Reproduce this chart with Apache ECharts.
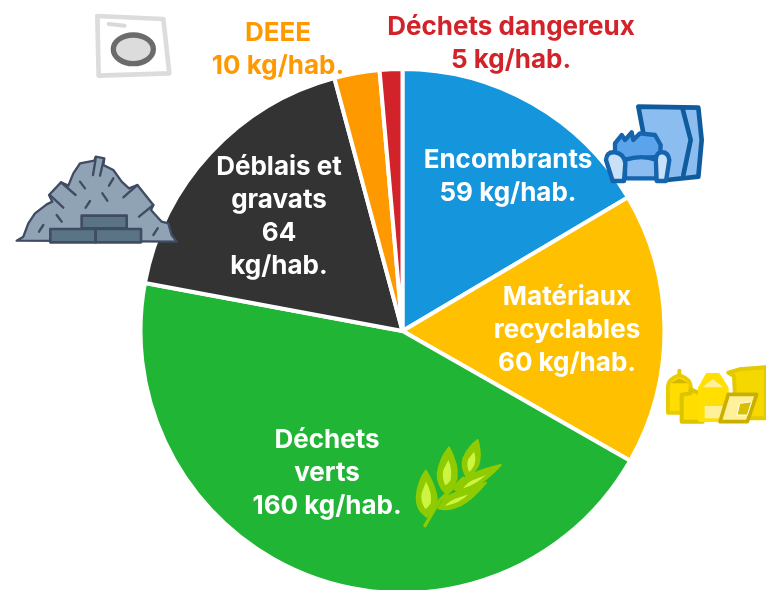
<!DOCTYPE html>
<html>
<head>
<meta charset="utf-8">
<style>html,body{margin:0;padding:0;background:#fff}#pie{width:766px;height:590px}</style>
<script src="https://cdn.jsdelivr.net/npm/echarts@6/dist/echarts.min.js"></script>
</head>
<body>
<div id="pie"></div>
<script>
var names = ['Encombrants', 'Matériaux recyclables', 'Déchets verts', 'Déblais et gravats', 'DEEE', 'Déchets dangereux'];
var values = [59, 60, 160, 64, 10, 5];
var labels = [
    'Encombrants\n59 kg/hab.',
    'Matériaux\nrecyclables\n60 kg/hab.',
    'Déchets\nverts\n160 kg/hab.',
    'Déblais et\ngravats\n64\nkg/hab.',
    'DEEE\n10 kg/hab.',
    'Déchets dangereux\n5 kg/hab.'
];
var colors = ['#1596dc', '#ffc000', '#21b535', '#333333', '#ff9900', '#d2232a'];
var labelColors = ['#fff', '#fff', '#fff', '#fff', '#ff9900', '#d2232a'];
var labelPos = [[508, 177], [567, 330], [327, 473], [279, 217], [278, 50], [511, 44]];

var myChart = echarts.init(document.getElementById('pie'));

// icons are drawn in zoomed coordinates, hence scale 1/3
function icon(x, y, children) {
    return { type: 'group', x: x, y: y, scaleX: 1 / 3, scaleY: 1 / 3, silent: true, children: children };
}
// the graphic component has no plain path type, so every svg path gets its own shape class
var shapeCount = 0;
function shape(d, fill, stroke, width) {
    var name = 'iconPath' + (shapeCount++);
    echarts.graphic.registerShape(name, echarts.graphic.extendPath(d));
    return { type: name, z: 10, style: { fill: fill || 'none', stroke: stroke || 'none', lineWidth: width || 0, lineJoin: 'round', lineCap: 'round' } };
}

var washer = icon(80, 5, [
    shape('M52 33 L250 42 L268 205 L56 212 Z', '#fff', '#dcdcdc', 14),
    shape('M86 57 L134 62', 'none', '#d9d9d9', 12),
    { type: 'ellipse', z: 10, shape: { cx: 160, cy: 133, rx: 60, ry: 43 }, style: { fill: '#dcdcdc', stroke: '#6b6b6b', lineWidth: 16 } }
]);

var rubble = icon(5, 145, [
    shape('M35 287 L55 275 L70 235 L90 205 L125 178 L142 170 L132 150 L168 112 L190 122 L205 85 L225 55 L268 47 L272 35 L298 40 L295 60 L325 75 L350 110 L372 130 L397 120 L445 180 L438 195 L470 230 L490 235 L500 270 L515 290 Z', '#8fa3b5', '#3f4c63', 7),
    shape('M135 150 L175 188 M168 112 L212 150 M397 120 L355 157 M445 180 L402 215 M272 42 L264 90 M296 45 L285 92 M225 110 L240 130 M325 100 L312 122 M292 145 L307 167 M255 168 L242 188 M155 210 L170 230 M115 240 L102 260 M458 250 L445 270', 'none', '#3f4c63', 7),
    shape('M230 212 H365 V250 H230 Z', '#5a7486', '#3f4c63', 8),
    shape('M136 252 H272 V292 H136 Z', '#5a7486', '#3f4c63', 8),
    shape('M272 252 H408 V292 H272 Z', '#5a7486', '#3f4c63', 8)
]);

var furniture = icon(600, 95, [
    shape('M115 35 L295 38 L305 135 L295 245 L200 255 L150 220 Z', '#8cbdf0', '#0f5b9e', 14),
    shape('M248 42 L272 135 L250 240', 'none', '#0f5b9e', 14),
    shape('M45 175 L45 145 L65 120 L75 135 L95 112 L100 135 L120 115 L165 120 L182 150 L180 185 L50 195 Z', '#5ba3ea', '#1464ae', 13),
    shape('M75 195 Q125 178 170 195 L170 250 L75 250 Z', '#8cbdf0', '#1464ae', 13),
    shape('M18 195 Q20 170 45 172 Q72 175 76 205 L72 258 L38 258 Z', '#c8e0f8', '#1464ae', 13),
    shape('M208 195 Q205 170 182 172 Q165 175 168 205 L170 258 L198 258 Z', '#c8e0f8', '#1464ae', 13)
]);

var bottles = icon(660, 360, [
    shape('M205 38 L238 28 L318 22 L318 175 L228 175 L222 48 Z', '#f5d800', '#e2c900', 12),
    shape('M58 32 L58 45 Q24 58 24 78 L24 158 L92 158 L92 78 Q92 58 58 45 Z', '#ffdd00', '#e8cc00', 12),
    shape('M32 70 L58 55 L85 70 Z', '#d4b800'),
    shape('M92 88 L92 100 L65 104 L65 185 L128 185 L128 104 Z', '#ffdd00', '#dcc400', 12),
    shape('M142 45 L175 45 L200 85 L200 180 L120 180 L120 85 Z', '#ffdf00', '#ffe000', 12),
    shape('M128 82 L158 57 L190 82 Z', '#fff099'),
    shape('M134 138 L190 138 L190 175 L134 175 Z', '#fff099'),
    shape('M205 103 L290 103 L262 185 L180 185 Z', '#fff099', '#c9b000', 11),
    shape('M240 130 L275 125 L262 165 L232 165 Z', '#d8c000', '#fff', 3)
]);

var leaf = icon(410, 435, [
    shape('M45 272 L90 195 L160 130 M90 195 L150 170 L225 130', 'none', '#8fcb00', 10),
    shape('M48 107 Q82 165 80 200 Q70 235 50 245 Q18 225 20 185 Q25 135 48 107 Z', '#8fcb00', '#8fcb00', 6),
    shape('M48 140 Q68 175 62 205 Q52 220 46 222 Q30 200 35 175 Z', '#ccf542'),
    shape('M117 37 Q145 90 140 130 Q128 165 105 172 Q82 150 83 115 Q90 70 117 37 Z', '#8fcb00', '#8fcb00', 6),
    shape('M115 75 Q128 105 122 135 Q112 150 105 150 Q95 125 100 105 Z', '#ccf542'),
    shape('M203 15 Q215 60 205 90 Q190 118 170 125 Q153 100 160 70 Q175 35 203 15 Z', '#8fcb00', '#8fcb00', 6),
    shape('M192 50 Q200 70 192 92 Q182 108 177 110 Q168 90 175 72 Z', '#ccf542'),
    shape('M272 90 Q230 135 200 150 Q165 170 135 165 Q140 140 175 122 Q225 100 272 90 Z', '#8fcb00', '#8fcb00', 6),
    shape('M228 120 Q195 150 160 160 Q170 143 190 135 Z', '#ccf542'),
    shape('M228 143 Q185 195 150 212 Q115 228 85 220 Q95 195 130 178 Q180 155 228 143 Z', '#8fcb00', '#8fcb00', 6),
    shape('M175 178 Q150 205 105 213 Q118 198 140 190 Z', '#ccf542')
]);

var option = {
    backgroundColor: '#fff',
    animation: false,
    graphic: [washer, rubble, furniture, bottles, leaf],
    series: [
    {
        type: 'pie',
        center: [402.5, 331],
        radius: [0, 262],
        startAngle: 90,
        clockwise: true,
        data: values.map(function (v, i) {
            return {
                name: names[i],
                value: v,
                itemStyle: { color: colors[i] },
                label: { color: labelColors[i], formatter: labels[i] }
            };
        }),
        itemStyle: {
            borderColor: '#fff',
            borderWidth: 4
        },
        label: {
            show: true,
            position: 'inside',
            fontFamily: 'Inter',
            fontWeight: 'bold',
            fontSize: 26,
            lineHeight: 33,
            align: 'center'
        },
        labelLine: { show: false },
        labelLayout: function (params) {
            var p = labelPos[params.dataIndex];
            return { x: p[0], y: p[1], align: 'center', verticalAlign: 'middle' };
        }
    }
    ]
};
myChart.setOption(option);
</script>
</body>
</html>
